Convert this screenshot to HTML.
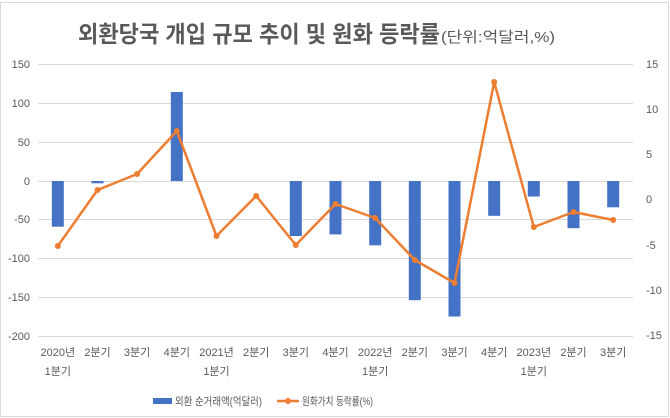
<!DOCTYPE html>
<html><head><meta charset="utf-8"><style>
body{margin:0;background:#fff}
svg{display:block;font-family:"Liberation Sans","Noto Sans CJK KR",sans-serif}
</style></head><body>
<svg width="670" height="418" viewBox="0 0 670 418">
<rect x="0.5" y="2.5" width="668" height="414" fill="#fff" stroke="#d9d9d9"/>
<text x="78" y="42" font-size="23" font-weight="bold" fill="#595959" textLength="362" lengthAdjust="spacingAndGlyphs">외환당국 개입 규모 추이 및 원화 등락률</text>
<text x="441" y="42" font-size="15" fill="#595959" textLength="114" lengthAdjust="spacingAndGlyphs">(단위:억달러,%)</text>
<g stroke="#d9d9d9" stroke-width="1">
<line x1="38" x2="633" y1="64.5" y2="64.5"/><line x1="38" x2="633" y1="103.5" y2="103.5"/>
<line x1="38" x2="633" y1="142.5" y2="142.5"/><line x1="38" x2="633" y1="181.5" y2="181.5"/>
<line x1="38" x2="633" y1="219.5" y2="219.5"/><line x1="38" x2="633" y1="258.5" y2="258.5"/>
<line x1="38" x2="633" y1="297.5" y2="297.5"/><line x1="38" x2="633" y1="336.5" y2="336.5"/>
</g>
<g font-size="11" fill="#595959" text-anchor="end">
<text x="30" y="68">150</text><text x="30" y="107">100</text><text x="30" y="146">50</text><text x="30" y="185">0</text>
<text x="30" y="223">-50</text><text x="30" y="262">-100</text><text x="30" y="301">-150</text><text x="30" y="340">-200</text>
</g>
<g font-size="11" fill="#595959" text-anchor="start">
<text x="646" y="68">15</text><text x="646" y="113">10</text><text x="646" y="158">5</text><text x="646" y="203">0</text>
<text x="646" y="249">-5</text><text x="646" y="294">-10</text><text x="646" y="339">-15</text>
</g>
<g fill="#4472c4">
<rect x="51.8" y="181" width="12" height="45.7"/>
<rect x="91.5" y="181" width="12" height="2.3"/>
<rect x="170.8" y="92" width="12" height="89"/>
<rect x="289.8" y="181" width="12" height="55"/>
<rect x="329.5" y="181" width="12" height="53.4"/>
<rect x="369.2" y="181" width="12" height="64.3"/>
<rect x="408.8" y="181" width="12" height="119.2"/>
<rect x="448.5" y="181" width="12" height="135.5"/>
<rect x="488.2" y="181" width="12" height="34.8"/>
<rect x="527.8" y="181" width="12" height="15.5"/>
<rect x="567.5" y="181" width="12" height="47.2"/>
<rect x="607.2" y="181" width="12" height="26.3"/>
</g>
<polyline fill="none" stroke="#ed7d31" stroke-width="2.5" stroke-linejoin="round" points="57.8,246 97.5,190 137.1,174 176.8,131 216.5,236 256.2,196 295.8,245 335.5,204 375.2,218 414.8,260 454.5,283 494.2,82 533.8,227 573.5,212 613.2,220"/>
<g fill="#ed7d31">
<circle cx="57.8" cy="246" r="3"/><circle cx="97.5" cy="190" r="3"/><circle cx="137.1" cy="174" r="3"/><circle cx="176.8" cy="131" r="3"/><circle cx="216.5" cy="236" r="3"/><circle cx="256.2" cy="196" r="3"/><circle cx="295.8" cy="245" r="3"/><circle cx="335.5" cy="204" r="3"/><circle cx="375.2" cy="218" r="3"/><circle cx="414.8" cy="260" r="3"/><circle cx="454.5" cy="283" r="3"/><circle cx="494.2" cy="82" r="3"/><circle cx="533.8" cy="227" r="3"/><circle cx="573.5" cy="212" r="3"/><circle cx="613.2" cy="220" r="3"/>
</g>
<g font-size="11" fill="#595959" text-anchor="middle">
<text x="57.8" y="356">2020년</text><text x="57.8" y="375">1분기</text>
<text x="97.5" y="356">2분기</text><text x="137.1" y="356">3분기</text><text x="176.8" y="356">4분기</text>
<text x="216.5" y="356">2021년</text><text x="216.5" y="375">1분기</text>
<text x="256.2" y="356">2분기</text><text x="295.8" y="356">3분기</text><text x="335.5" y="356">4분기</text>
<text x="375.2" y="356">2022년</text><text x="375.2" y="375">1분기</text>
<text x="414.8" y="356">2분기</text><text x="454.5" y="356">3분기</text><text x="494.2" y="356">4분기</text>
<text x="533.8" y="356">2023년</text><text x="533.8" y="375">1분기</text>
<text x="573.5" y="356">2분기</text><text x="613.2" y="356">3분기</text>
</g>
<rect x="153" y="398" width="19" height="6" fill="#4472c4"/>
<text x="175" y="405" font-size="11" fill="#595959" textLength="87" lengthAdjust="spacingAndGlyphs">외환 순거래액(억달러)</text>
<line x1="277" x2="299" y1="401" y2="401" stroke="#ed7d31" stroke-width="2.5"/>
<circle cx="288" cy="401" r="3" fill="#ed7d31"/>
<text x="302" y="405" font-size="11" fill="#595959" textLength="71" lengthAdjust="spacingAndGlyphs">원화가치 등락률(%)</text>
</svg>
</body></html>
